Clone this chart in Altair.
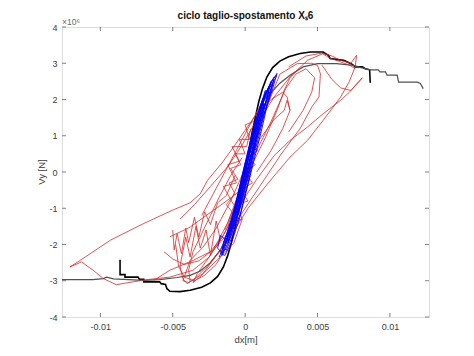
import altair as alt
import pandas as pd

# ---------------- axes ----------------
x_ticks = [-0.01, -0.005, 0, 0.005, 0.01]
y_ticks = [-4, -3, -2, -1, 0, 1, 2, 3, 4]
x_domain = [-0.01265, 0.0127]
y_domain = [-4, 4]          # shear in units of 1e6 N

# ---------------- envelope curves (x [m], Vy [x1e6 N]) ----------------
black_env = [(-0.00864, -2.42), (-0.00864, -2.83), (-0.0083, -2.83), (-0.0083, -2.90), (-0.0074, -2.90),
             (-0.0073, -2.96), (-0.0070, -2.96), (-0.0070, -3.03), (-0.0059, -3.03), (-0.0058, -3.08),
             (-0.0055, -3.10), (-0.0054, -3.22), (-0.0052, -3.29), (-0.0045, -3.30), (-0.0038, -3.26),
             (-0.0030, -3.18), (-0.0024, -3.06), (-0.0019, -2.88), (-0.0015, -2.62), (-0.0012, -2.30),
             (-0.00095, -1.95), (-0.0007, -1.52), (-0.00046, -1.05), (-0.00022, -0.50), (0.0, 0.0),
             (0.00022, 0.50), (0.00046, 1.05), (0.0007, 1.50), (0.00095, 1.95), (0.0012, 2.30),
             (0.0015, 2.62), (0.0019, 2.88), (0.0024, 3.06), (0.0030, 3.18), (0.0038, 3.27),
             (0.0045, 3.31), (0.0054, 3.31), (0.00553, 3.27), (0.00576, 3.22), (0.00587, 3.13),
             (0.0068, 3.08), (0.0071, 3.03), (0.0074, 2.97), (0.0076, 2.90), (0.0081, 2.90),
             (0.0083, 2.85), (0.0086, 2.82), (0.00864, 2.46)]

grey_env = [(-0.01265, -2.97), (-0.0105, -2.97), (-0.0098, -2.94), (-0.00956, -2.90), (-0.0091, -2.95),
            (-0.0070, -2.99), (-0.0059, -2.97), (-0.0047, -2.91), (-0.0038, -2.85), (-0.0031, -2.73),
            (-0.0024, -2.50), (-0.0017, -2.15), (-0.0010, -1.50), (-0.0004, -0.70), (0.0, 0.0),
            (0.0004, 0.70), (0.0010, 1.50), (0.0017, 2.15), (0.0024, 2.45), (0.0031, 2.67),
            (0.0040, 2.90), (0.0050, 2.99), (0.0063, 2.99), (0.0075, 2.94), (0.0080, 2.88),
            (0.00864, 2.82), (0.0092, 2.82), (0.0093, 2.76), (0.0097, 2.76), (0.0098, 2.67),
            (0.0105, 2.67), (0.0106, 2.48), (0.0119, 2.48), (0.0121, 2.44), (0.0123, 2.30)]

# ---------------- red cycles ----------------
red_a = [(0.0053, 2.95), (0.0060, 2.55), (0.0066, 2.32), (0.0073, 2.25), (0.0081, 2.60), (0.0072, 2.20),
         (0.0066, 1.98), (0.0054, 1.61), (0.0043, 1.24), (0.0031, 0.87), (0.0020, 0.45), (0.0008, -0.20),
         (-0.0005, -1.00), (-0.0015, -1.75), (-0.0025, -2.35), (-0.0036, -2.71), (-0.0052, -2.90),
         (-0.0068, -2.97), (-0.0082, -3.06), (-0.0089, -3.11), (-0.0098, -2.94), (-0.0105, -2.71),
         (-0.0113, -2.48), (-0.0121, -2.62), (-0.0114, -2.44), (-0.0093, -1.88), (-0.0070, -1.42),
         (-0.0050, -1.05), (-0.0038, -0.85), (-0.0031, -0.60), (-0.0026, -0.23), (-0.0016, 0.25),
         (-0.0008, 0.69), (0.0000, 1.15), (0.0008, 1.61), (0.0018, 2.00), (0.0026, 2.20),
         (0.0029, 2.07), (0.0031, 1.70)]
red_b = [(-0.0043, -3.00), (-0.0038, -2.44), (-0.0029, -2.07), (-0.0020, -1.55), (-0.0010, -0.80),
         (0.0000, 0.10), (0.0010, 1.43), (0.0020, 2.07), (0.0031, 2.62), (0.0043, 3.08), (0.0054, 3.27),
         (0.0060, 3.20), (0.0066, 3.08), (0.0073, 3.00), (0.0077, 3.22), (0.0076, 2.90), (0.0072, 2.50),
         (0.0066, 2.07), (0.0054, 1.43), (0.0043, 0.87), (0.0031, 0.41), (0.0016, -0.30), (0.0002, -1.00),
         (-0.0012, -1.90), (-0.0026, -2.60), (-0.0035, -2.95), (-0.0039, -3.05), (-0.0043, -3.00)]
red_c = [(-0.0033, -2.80), (-0.0024, -2.30), (-0.0012, -1.40), (0.0000, -0.10), (0.0012, 1.50),
         (0.0024, 2.70), (0.0036, 2.99), (0.0046, 3.00), (0.0050, 2.94), (0.0052, 2.71), (0.0051, 2.07),
         (0.0046, 1.79), (0.0038, 1.20), (0.0025, 0.50), (0.0010, -0.40), (-0.0005, -1.30),
         (-0.0018, -2.20), (-0.0030, -2.85), (-0.0036, -3.05), (-0.0033, -2.80)]
red_e = [(-0.0012, -1.50), (-0.0004, -0.60), (0.0006, 0.30), (0.0014, 0.95), (0.0022, 1.70),
         (0.0027, 2.25), (0.0031, 2.60), (0.0036, 2.80)]
red_f = [(0.0000, 0.20), (0.0010, 0.90), (0.0020, 1.45), (0.0027, 1.70), (0.0029, 1.98), (0.0031, 1.70),
         (0.0026, 1.20), (0.0018, 0.60), (0.0008, 0.00)]
red_g = [(-0.0030, -1.20), (-0.0022, -0.60), (-0.0014, 0.00), (-0.0006, 0.60), (0.0002, 1.20),
         (0.0010, 1.80), (0.0016, 2.30), (0.0022, 2.65)]
red_h = [(-0.0045, -1.30), (-0.0035, -0.90), (-0.0024, -0.40), (-0.0012, 0.15), (-0.0002, 0.75),
         (0.0006, 1.30), (0.0014, 1.90)]
red_i = [(-0.0050, -1.60), (-0.0049, -2.15), (-0.0047, -1.70), (-0.0044, -2.25), (-0.0041, -1.55),
         (-0.0039, -1.95), (-0.0035, -1.25), (-0.0032, -1.80), (-0.0028, -1.10), (-0.0024, -1.45),
         (-0.0019, -0.85), (-0.0013, -0.65), (-0.0007, -0.10)]
red_j = [(-0.0063, -2.99), (-0.0052, -2.71), (-0.0036, -2.44), (-0.0022, -2.16), (-0.0012, -1.70),
         (-0.0004, -0.90), (0.0004, 0.10)]
red_k = [(-0.0052, -1.79), (-0.0038, -1.52), (-0.0022, -1.06), (-0.0006, -0.60), (0.0004, -0.10)]
red_l = [(-0.0045, -2.60), (-0.0043, -2.95), (-0.0040, -3.08), (-0.0029, -2.80), (-0.0017, -2.34),
         (-0.0008, -1.98), (-0.0002, -1.30)]
red_m = [(-0.0014, -1.60), (-0.0009, -1.10), (-0.0013, -0.90), (-0.0007, -0.60), (-0.0011, -0.30),
         (-0.0005, -0.20), (-0.0010, 0.10), (-0.0003, 0.20), (-0.0007, 0.50), (0.0000, 0.50),
         (-0.0004, 0.90), (0.0003, 0.90), (0.0000, 1.30), (0.0006, 1.40)]
red_n = [(-0.0010, -1.40), (-0.0002, -1.30), (-0.0006, -0.90), (0.0002, -0.80), (-0.0003, -0.50),
         (0.0005, -0.30), (0.0000, 0.00), (0.0007, 0.20), (0.0002, 0.40), (0.0009, 0.60), (0.0004, 0.80),
         (0.0011, 1.10)]
red_o = [(-0.0045, -2.60), (-0.0041, -1.80), (-0.0038, -2.35), (-0.0034, -1.50), (-0.0031, -2.10),
         (-0.0027, -1.60), (-0.0024, -2.30), (-0.0020, -1.35), (-0.0017, -1.90)]
red_p = [(0.0030, 2.90), (0.0042, 3.20), (0.0053, 3.28), (0.0058, 3.15), (0.0065, 3.05), (0.0072, 2.95),
         (0.0076, 2.85)]
red_q = [(-0.0048, -2.00), (-0.0046, -2.60), (-0.0042, -2.90), (-0.0035, -3.00), (-0.0028, -2.85),
         (-0.0020, -2.55), (-0.0012, -2.00), (-0.0005, -1.20), (0.0003, -0.20)]
red_r = [(-0.0038, -3.02), (-0.0039, -2.70), (-0.0036, -2.20), (-0.0030, -1.70), (-0.0024, -1.20),
         (-0.0018, -0.70), (-0.0010, -0.10), (-0.0002, 0.40)]
red_s = [(-0.0056, -2.20), (-0.0050, -2.40), (-0.0042, -2.55), (-0.0032, -2.45), (-0.0024, -2.20),
         (-0.0016, -1.80), (-0.0009, -1.30)]
red_t = [(0.0008, 0.60), (0.0018, 1.40), (0.0028, 2.30), (0.0035, 2.70), (0.0042, 2.85), (0.0048, 2.60),
         (0.0046, 2.20), (0.0040, 1.70), (0.0030, 1.10)]
red_u = [(-0.0008, -0.90), (-0.0015, -0.40), (-0.0006, -0.30), (-0.0012, 0.20), (-0.0004, 0.30),
         (-0.0009, 0.70), (0.0001, 0.70), (0.0004, 1.20)]

# ---------------- blue cycles ----------------
blue_1 = [(-0.0017, -2.25), (-0.0013, -1.90), (-0.0008, -1.20), (-0.0003, -0.30), (0.0002, 0.60),
          (0.0007, 1.40), (0.0012, 2.00), (0.0017, 2.40), (0.0022, 2.72), (0.0019, 2.30), (0.0015, 1.80),
          (0.0011, 1.10), (0.0006, 0.30), (0.0001, -0.50), (-0.0004, -1.30), (-0.0009, -1.90),
          (-0.0014, -2.30), (-0.0017, -2.25)]
blue_2 = [(-0.0016, -2.10), (-0.0011, -1.50), (-0.0006, -0.80), (-0.0001, 0.10), (0.0005, 1.00),
          (0.0010, 1.70), (0.0015, 2.20), (0.0019, 2.45), (0.0016, 2.00), (0.0012, 1.40), (0.0007, 0.60),
          (0.0002, -0.30), (-0.0003, -1.10), (-0.0008, -1.70), (-0.0013, -2.15), (-0.0016, -2.10)]
blue_3 = [(-0.0013, -1.80), (-0.0009, -1.30), (-0.0004, -0.50), (0.0001, 0.30), (0.0006, 1.10),
          (0.0011, 1.80), (0.0016, 2.20), (0.0013, 1.70), (0.0008, 0.90), (0.0003, 0.00), (-0.0002, -0.80),
          (-0.0007, -1.40), (-0.0013, -1.80)]
blue_4 = [(-0.0011, -1.60), (-0.0007, -1.10), (-0.0002, -0.30), (0.0003, 0.50), (0.0008, 1.20),
          (0.0013, 1.90), (0.0011, 1.50), (0.0006, 0.70), (0.0001, -0.10), (-0.0004, -0.90),
          (-0.0011, -1.60)]
blue_5 = [(-0.0009, -1.30), (-0.0005, -0.80), (0.0000, 0.00), (0.0005, 0.80), (0.0010, 1.50),
          (0.0008, 1.10), (0.0003, 0.30), (-0.0002, -0.50), (-0.0009, -1.30)]
blue_6 = [(-0.0015, -1.95), (-0.0010, -1.40), (-0.0005, -0.60), (0.0000, 0.20), (0.0006, 1.00),
          (0.0011, 1.60), (0.0016, 2.10), (0.0020, 2.55), (0.0017, 2.10), (0.0013, 1.60), (0.0008, 0.90),
          (0.0003, 0.10), (-0.0002, -0.70), (-0.0007, -1.30), (-0.0012, -1.80), (-0.0015, -1.95)]
blue_7 = [(-0.0019, -2.10), (-0.0017, -1.75), (-0.0014, -1.85), (-0.0016, -2.25), (-0.0019, -2.10)]
blue_8 = [(0.0004, 0.70), (0.0009, 1.50), (0.0014, 2.10), (0.0018, 2.50), (0.0021, 2.65)]
blue_9 = [(-0.0016, -2.30), (-0.0012, -1.80), (-0.0007, -1.10), (-0.0002, -0.20), (0.0003, 0.70),
          (0.0008, 1.50), (0.0013, 2.05), (0.0018, 2.50), (0.0015, 2.05), (0.0010, 1.35), (0.0005, 0.45),
          (0.0000, -0.40), (-0.0005, -1.20), (-0.0010, -1.80), (-0.0016, -2.30)]
blue_10 = [(-0.0014, -2.05), (-0.0010, -1.55), (-0.0005, -0.75), (0.0000, 0.05), (0.0004, 0.85),
           (0.0009, 1.65), (0.0014, 2.25), (0.0012, 1.85), (0.0007, 1.00), (0.0002, 0.15),
           (-0.0003, -0.65), (-0.0008, -1.45), (-0.0014, -2.05)]
blue_11 = [(-0.0012, -1.95), (-0.0008, -1.35), (-0.0003, -0.55), (0.0002, 0.35), (0.0007, 1.20),
           (0.0012, 1.95), (0.0017, 2.35), (0.0014, 1.90), (0.0009, 1.20), (0.0004, 0.40),
           (-0.0001, -0.45), (-0.0006, -1.25), (-0.0012, -1.95)]
blue_12 = [(-0.0018, -2.35), (-0.0014, -2.00), (-0.0010, -1.55), (-0.0005, -0.85), (0.0000, -0.05),
           (0.0005, 0.85), (0.0010, 1.65), (0.0015, 2.25), (0.0020, 2.62)]

red_cycles = [red_a, red_b, red_c, red_e, red_f, red_g, red_h, red_i, red_j, red_k, red_l,
              red_m, red_n, red_o, red_p, red_q, red_r, red_s, red_t, red_u]
blue_cycles = [blue_1, blue_2, blue_3, blue_4, blue_5, blue_6, blue_7, blue_8, blue_9, blue_10,
               blue_11, blue_12]

title_text = ["ciclo taglio-spostamento Xₛ6"]
exponent_text = ["×10⁶"]
y_title_text = ["Vy [N]"]


def frame(paths, tag):
    rows = []
    for pid, pts in enumerate(paths):
        for i, (x, y) in enumerate(pts):
            rows.append({"x": x, "y": y, "path": f"{tag}{pid}", "i": i})
    return pd.DataFrame(rows)


FONT = "Liberation Sans"
TXT = "#3c3c3c"
BOX = "#808080"
W, H = 367, 290

X_ENC = alt.X("x:Q", scale=alt.Scale(domain=x_domain, nice=False, zero=False),
              axis=alt.Axis(values=x_ticks, labelExpr="toString(datum.value)", title="dx[m]",
                            grid=False, domain=False, ticks=False, labelPadding=5,
                            labelFontSize=9, titleFontSize=9.5, titleFontWeight="normal",
                            titlePadding=3, labelColor=TXT, titleColor=TXT,
                            labelFont=FONT, titleFont=FONT))
Y_ENC = alt.Y("y:Q", scale=alt.Scale(domain=y_domain, nice=False, zero=False),
              axis=alt.Axis(values=y_ticks, labelExpr="toString(datum.value)", title=None,
                            grid=False, domain=False, ticks=False, labelPadding=5,
                            labelFontSize=9, labelColor=TXT, labelFont=FONT))


def lines(paths, tag, color, width, opacity=1.0):
    return alt.Chart(frame(paths, tag)).mark_line(color=color, strokeWidth=width, opacity=opacity).encode(
        x=X_ENC, y=Y_ENC, detail="path:N", order="i:Q")


black_layer = lines([black_env], "k", "#000000", 1.6)
grey_layer = lines([grey_env], "g", "#505050", 1.2)
red_layer = lines(red_cycles, "r", "#d42a2a", 0.8)
blue_layer = lines(blue_cycles, "b", "#0000ff", 0.9)

xt = pd.DataFrame({"x": x_ticks})
yt = pd.DataFrame({"y": y_ticks})
tick_b = alt.Chart(xt).mark_rule(color=BOX, strokeWidth=1).encode(x=X_ENC, y=alt.value(H), y2=alt.value(H - 4))
tick_t = alt.Chart(xt).mark_rule(color=BOX, strokeWidth=1).encode(x=X_ENC, y=alt.value(0), y2=alt.value(4))
tick_l = alt.Chart(yt).mark_rule(color=BOX, strokeWidth=1).encode(y=Y_ENC, x=alt.value(0), x2=alt.value(4))
tick_r = alt.Chart(yt).mark_rule(color=BOX, strokeWidth=1).encode(y=Y_ENC, x=alt.value(W - 4), x2=alt.value(W))

exp_label = alt.Chart(pd.DataFrame({"t": exponent_text})).mark_text(
    align="left", baseline="bottom", fontSize=8.5, font=FONT, color="#6a6a6a"
).encode(text="t:N", x=alt.value(0), y=alt.value(0))

title_label = alt.Chart(pd.DataFrame({"t": title_text})).mark_text(
    align="center", baseline="middle", fontSize=10, fontWeight="bold", font=FONT, color="#111111"
).encode(text="t:N", x=alt.value(W / 2), y=alt.value(-11))

y_title = alt.Chart(pd.DataFrame({"t": y_title_text})).mark_text(
    align="center", baseline="middle", angle=270, fontSize=9.5, font=FONT, color=TXT
).encode(text="t:N", x=alt.value(-20), y=alt.value(H / 2))

chart = alt.layer(
    tick_b, tick_t, tick_l, tick_r,
    black_layer, grey_layer, red_layer, blue_layer, exp_label, title_label, y_title
).properties(
    width=W, height=H,
    padding={"left": 62, "top": 27, "right": 45, "bottom": 39},
    autosize=alt.AutoSizeParams(type="none"),
).configure_view(stroke=BOX, strokeWidth=1).configure(background="white")

chart.save("out.html", embed_options={"renderer": "svg", "actions": False})
